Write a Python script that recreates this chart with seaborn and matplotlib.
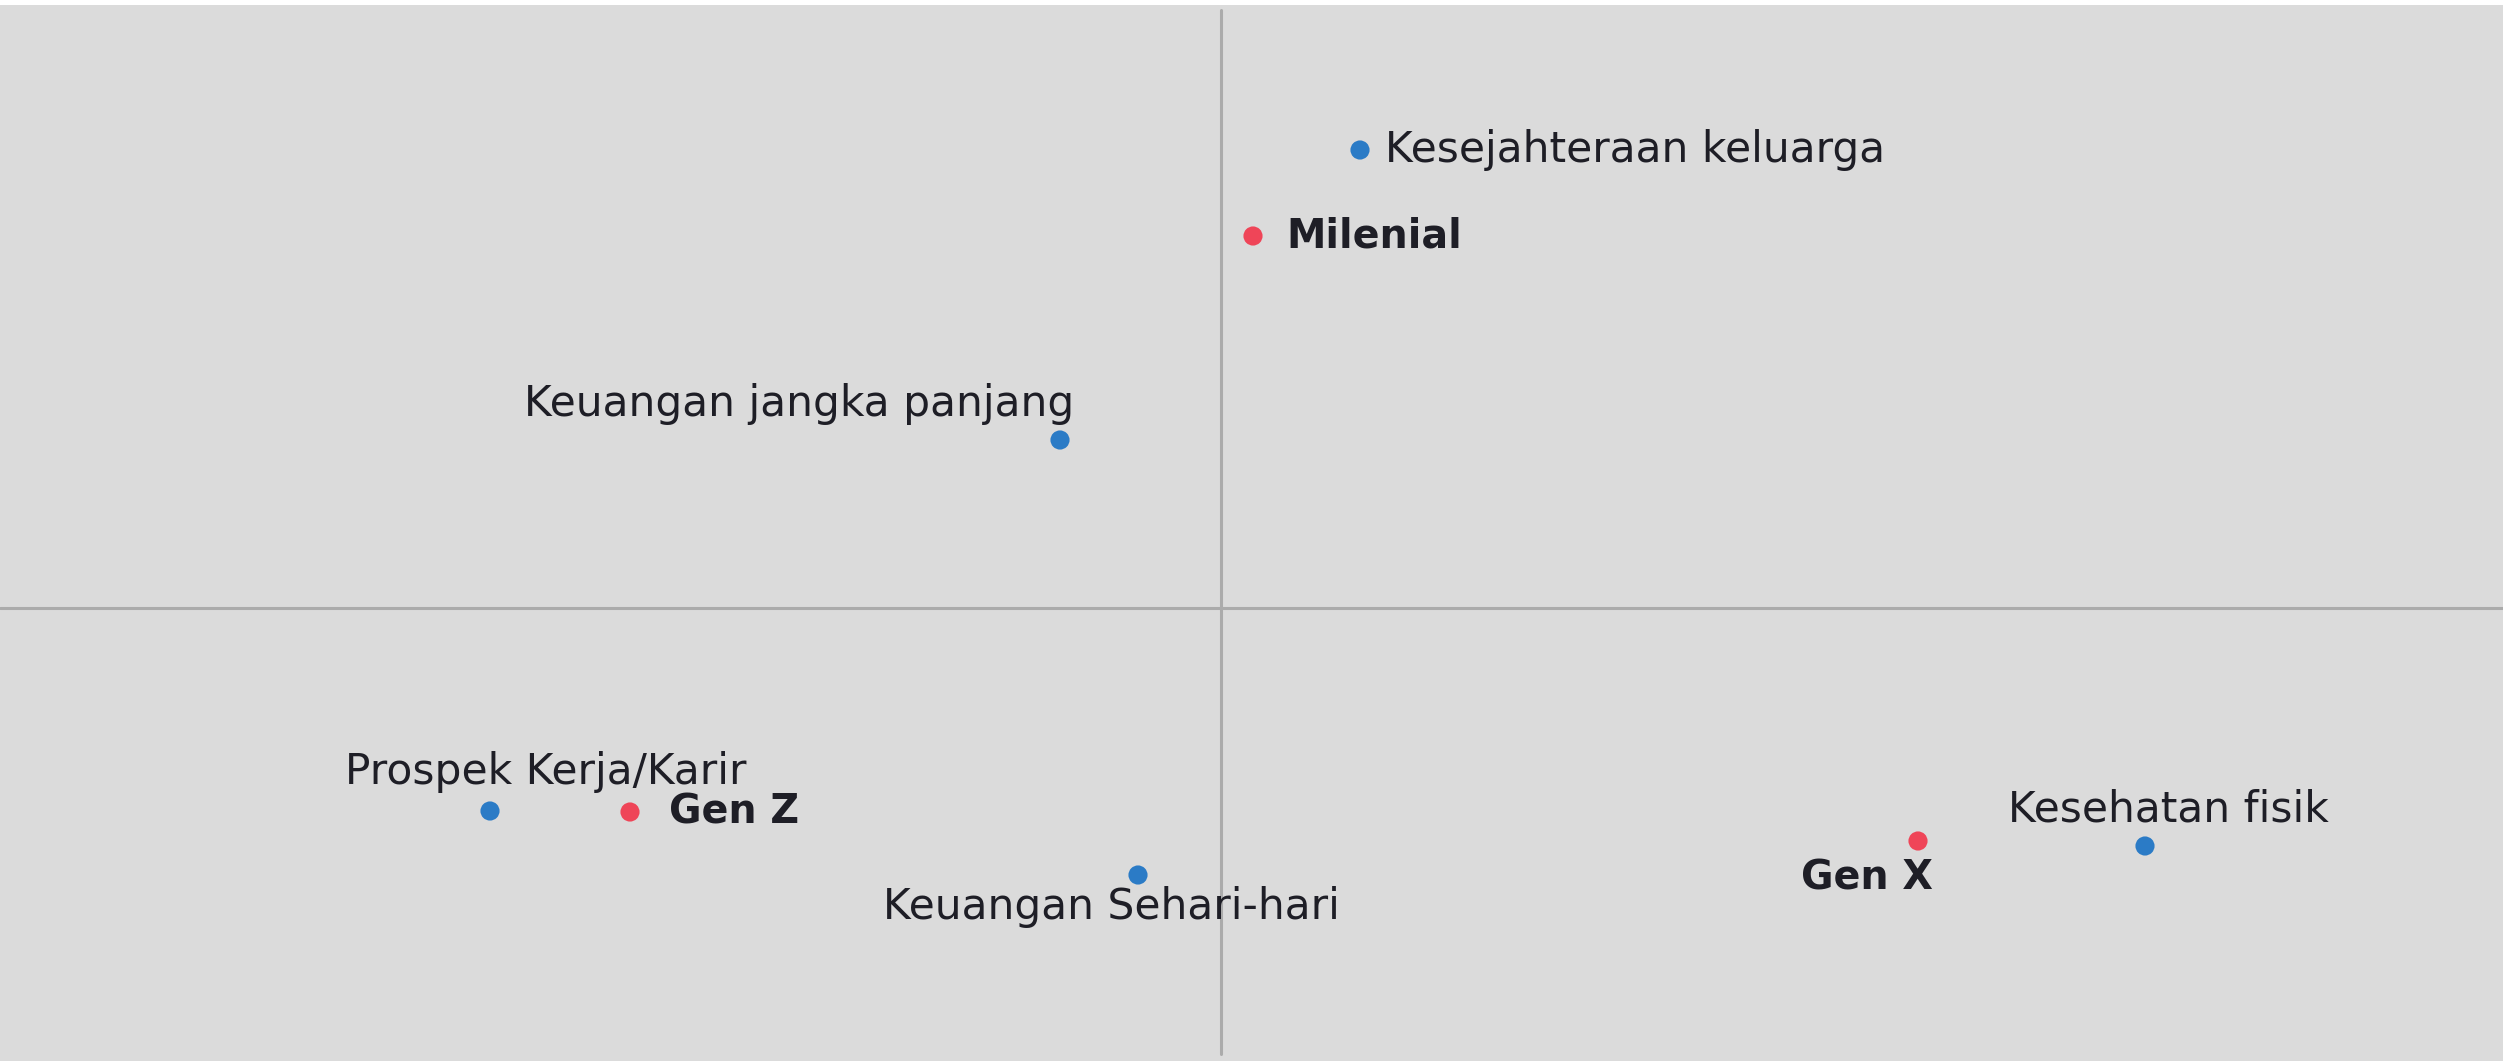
import matplotlib
matplotlib.use('Agg')
import matplotlib.pyplot as plt
import seaborn as sns
import pandas as pd

# Koordinat peta persepsi (dimensi 1, dimensi 2)
aspek = ['Kesejahteraan keluarga', 'Keuangan jangka panjang', 'Prospek Kerja/Karir',
         'Keuangan Sehari-hari', 'Kesehatan fisik']
aspek_x = [0.139, -0.161, -0.731, -0.083, 0.924]
aspek_y = [0.458, 0.168, -0.203, -0.267, -0.238]

generasi = ['Milenial', 'Gen Z', 'Gen X']
generasi_x = [0.032, -0.591, 0.697]
generasi_y = [0.372, -0.204, -0.233]

df = pd.DataFrame({
    'label': aspek + generasi,
    'x': aspek_x + generasi_x,
    'y': aspek_y + generasi_y,
    'tipe': ['aspek'] * len(aspek) + ['generasi'] * len(generasi),
})

# posisi label relatif ke titik (pixel): dx, dy, ha
label_pos = {
    'Kesejahteraan keluarga': (25, 0, 'left'),
    'Milenial': (33, 0, 'left'),
    'Keuangan jangka panjang': (14, 36, 'right'),
    'Prospek Kerja/Karir': (56, 39, 'center'),
    'Gen Z': (39, 0, 'left'),
    'Keuangan Sehari-hari': (-27, -32, 'center'),
    'Gen X': (-51, -37, 'center'),
    'Kesehatan fisik': (23, 37, 'center'),
}

sns.set_theme(style='white')
plt.rcParams['font.family'] = ['DejaVu Sans']

fig = plt.figure(figsize=(25.03, 10.61), dpi=100)
ax = fig.add_axes([0, 0, 1, 1 - 5 / 1061])
ax.set_facecolor('#dbdbdb')

ax.axhline(0, color='#ababab', lw=2.2, zorder=1)
ax.axvline(0, color='#ababab', lw=2.2, ymin=7 / 1056, ymax=1 - 5 / 1056, zorder=1)

sns.scatterplot(data=df, x='x', y='y', hue='tipe',
                palette={'aspek': '#2b7bc6', 'generasi': '#ef4558'},
                s=190, linewidth=0, legend=False, ax=ax, zorder=3)

for _, r in df.iterrows():
    dx, dy, ha = label_pos[r['label']]
    bold = r['tipe'] == 'generasi'
    ax.annotate(r['label'], (r['x'], r['y']), xytext=(dx, dy), textcoords='offset pixels',
                ha=ha, va='center', fontsize=28.5 if bold else 30.5, color='#1e1e26',
                fontweight='bold' if bold else 'normal')

ax.set_xlim(-1.221, 1.282)
ax.set_ylim(-0.453, 0.603)
ax.set_xticks([])
ax.set_yticks([])
ax.set_xlabel('')
ax.set_ylabel('')
for s in ax.spines.values():
    s.set_visible(False)

fig.savefig('out.png', dpi=100, facecolor='white')
